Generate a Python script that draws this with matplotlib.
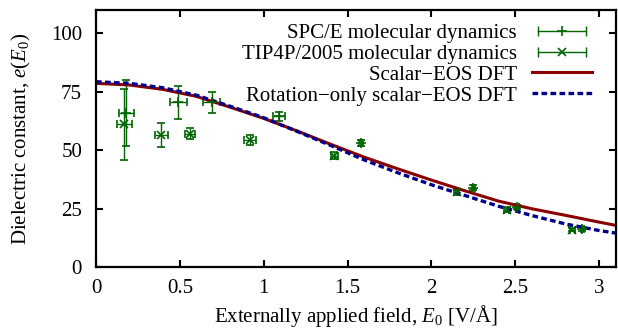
import matplotlib
matplotlib.use("Agg")
import matplotlib.pyplot as plt
from matplotlib.lines import Line2D
from matplotlib.legend_handler import HandlerLine2D, HandlerTuple

plt.rcParams['font.family'] = 'Liberation Serif'
plt.rcParams['mathtext.fontset'] = 'custom'
plt.rcParams['mathtext.rm'] = 'Liberation Serif'
plt.rcParams['mathtext.it'] = 'Liberation Serif:italic'
plt.rcParams['font.size'] = 15

GREEN = '#006400'
RED = '#8b0000'
BLUE = '#00008b'
DASH = (0, (1.7, 1.0))

# SPC/E molecular dynamics
spce_x = [0.18, 0.49, 0.69, 1.09, 1.58, 2.25, 2.51, 2.90]
spce_y = [66.0, 70.5, 70.5, 64.5, 53.0, 34.0, 25.7, 16.4]
spce_xerr = [0.045, 0.05, 0.05, 0.035, 0.012, 0.01, 0.01, 0.01]
spce_yerr = [14.0, 7.0, 4.5, 2.0, 1.2, 1.0, 1.0, 0.8]

# TIP4P/2005 molecular dynamics
tip_x = [0.17, 0.39, 0.56, 0.92, 1.42, 2.15, 2.45, 2.84]
tip_y = [61.0, 56.5, 57.0, 54.3, 47.6, 32.0, 24.6, 16.0]
tip_xerr = [0.047, 0.04, 0.032, 0.035, 0.02, 0.015, 0.015, 0.015]
tip_yerr = [15.0, 5.3, 2.4, 2.0, 1.5, 1.0, 1.0, 0.8]

# DFT curves
dft_x = [0.0, 0.2, 0.4, 0.6, 0.8, 1.0, 1.2, 1.4, 1.6, 1.8, 2.0, 2.2, 2.4, 2.6, 2.8, 3.0, 3.1]
scalar_eps = [78.6, 77.9, 76.0, 73.0, 68.4, 63.6, 58.2, 52.5, 47.0, 42.0, 37.2, 32.6, 28.2, 24.9, 22.1, 19.2, 17.8]
rot_eps = [79.3, 78.6, 76.7, 73.5, 68.8, 63.9, 58.0, 52.0, 45.8, 40.3, 35.2, 30.6, 26.0, 22.0, 18.4, 15.6, 14.5]

fig = plt.figure(figsize=(6.18, 3.28), dpi=100)
ax = fig.add_axes([0.1553, 0.186, 0.8414, 0.7835])

ax.errorbar(spce_x, spce_y, xerr=spce_xerr, yerr=spce_yerr, fmt='+', color=GREEN,
            ms=7, mew=1.2, elinewidth=1.0, capsize=3, capthick=1.0)
ax.errorbar(tip_x, tip_y, xerr=tip_xerr, yerr=tip_yerr, fmt='x', color=GREEN,
            ms=6, mew=1.2, elinewidth=1.0, capsize=3, capthick=1.0)
ax.plot(dft_x, scalar_eps, color=RED, lw=2.2)
ax.plot(dft_x, rot_eps, color=BLUE, lw=2.4, ls=DASH)

ax.set_xlim(0, 3.1)
ax.set_ylim(0, 110)
ax.set_xticks([0, 0.5, 1, 1.5, 2, 2.5, 3])
ax.set_xticklabels(['0', '0.5', '1', '1.5', '2', '2.5', '3'])
ax.set_yticks([0, 25, 50, 75, 100])
ax.tick_params(direction='in', top=True, right=True, length=5, width=1.5)
ax.tick_params(axis='x', pad=9)
ax.tick_params(axis='y', pad=10)
for s in ax.spines.values():
    s.set_linewidth(1.6)

ax.set_xlabel(r'Externally applied field, $E_0$ [V/Å]', labelpad=3)
ax.set_ylabel(r'Dielectric constant, $e(E_0)$', labelpad=13)

# legend handles: horizontal bar with end caps, marker on top
caps1 = Line2D([], [], color=GREEN, lw=1.0, marker='|', ms=7, mew=1.0)
caps2 = Line2D([], [], color=GREEN, lw=1.0, marker='|', ms=7, mew=1.0)
plus = Line2D([], [], color=GREEN, lw=0, marker='+', ms=7, mew=1.2)
cross = Line2D([], [], color=GREEN, lw=0, marker='x', ms=6, mew=1.2)
red_h = Line2D([], [], color=RED, lw=2.2)
blue_h = Line2D([], [], color=BLUE, lw=2.4, ls=DASH)
hmap = {tuple: HandlerTuple(ndivide=1, pad=0),
        caps1: HandlerLine2D(numpoints=2), caps2: HandlerLine2D(numpoints=2),
        plus: HandlerLine2D(numpoints=1), cross: HandlerLine2D(numpoints=1)}
ax.legend([(caps1, plus), (caps2, cross), red_h, blue_h],
          ['SPC/E molecular dynamics', 'TIP4P/2005 molecular dynamics',
           'Scalar−EOS DFT', 'Rotation−only scalar−EOS DFT'],
          handler_map=hmap, loc='upper right', frameon=False, markerfirst=False,
          handlelength=2.9, handletextpad=0.7, labelspacing=0.06,
          borderaxespad=0.0, bbox_to_anchor=(0.97, 0.98))

fig.savefig('out.png', dpi=100)
